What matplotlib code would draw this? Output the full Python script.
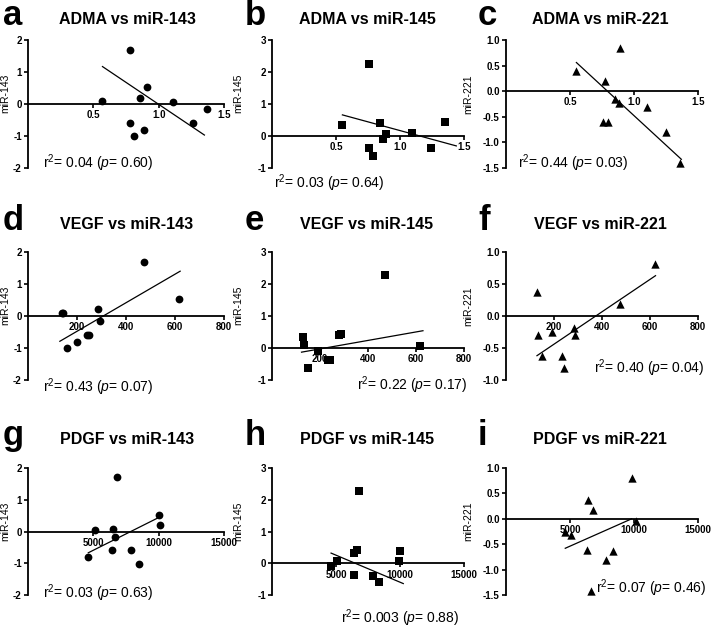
import matplotlib
matplotlib.use("Agg")
import matplotlib.pyplot as plt

plt.rcParams["font.family"] = ["Liberation Sans", "DejaVu Sans"]
plt.rcParams["mathtext.fontset"] = "custom"
plt.rcParams["mathtext.rm"] = "Liberation Sans"
plt.rcParams["mathtext.it"] = "Liberation Sans:italic"
plt.rcParams["axes.unicode_minus"] = False

# ---- data ----
# ADMA panels
a_x = [0.57, 0.78, 0.78, 0.81, 0.89, 0.86, 0.91, 1.11, 1.26, 1.37]
a_y = [0.08, 1.69, -0.60, -1.00, -0.80, 0.20, 0.52, 0.07, -0.60, -0.17]
a_fit = ([0.57, 1.35], [1.17, -0.97])

b_x = [0.55, 0.76, 0.76, 0.79, 0.84, 0.87, 0.89, 1.09, 1.24, 1.35]
b_y = [0.34, 2.24, -0.37, -0.61, 0.41, -0.08, 0.07, 0.09, -0.39, 0.43]
b_fit = ([0.55, 1.44], [0.66, -0.31])

c_x = [0.55, 0.77, 0.76, 0.80, 0.85, 0.88, 0.89, 1.10, 1.25, 1.36]
c_y = [0.39, 0.19, -0.60, -0.60, -0.15, -0.24, 0.84, -0.30, -0.80, -1.40]
c_fit = ([0.55, 1.37], [0.56, -1.33])

# VEGF panels
d_x = [139, 143, 158, 199, 240, 248, 287, 294, 475, 618]
d_y = [0.10, 0.08, -1.00, -0.80, -0.58, -0.58, 0.21, -0.15, 1.69, 0.53]
d_fit = ([130, 621], [-0.79, 1.40])

e_x = [130, 135, 149, 190, 235, 241, 280, 287, 472, 618]
e_y = [0.34, 0.09, -0.62, -0.09, -0.39, -0.39, 0.41, 0.43, 2.29, 0.06]
e_fit = ([123, 629], [-0.13, 0.54])

f_x = [129, 135, 150, 192, 232, 241, 282, 288, 473, 619]
f_y = [0.38, -0.30, -0.62, -0.25, -0.62, -0.82, -0.18, -0.30, 0.18, 0.81]
f_fit = ([129, 623], [-0.62, 0.63])

# PDGF panels
g_x = [4615, 5128, 6487, 6462, 6667, 6846, 7897, 8461, 10051, 10128]
g_y = [-0.80, 0.06, 0.09, -0.59, -0.18, 1.71, -0.59, -1.01, 0.53, 0.21]
g_fit = ([4615, 10000], [-0.67, 0.44])

h_x = [4615, 5077, 6410, 6615, 6410, 6820, 7872, 8385, 10000, 9949]
h_y = [-0.09, 0.08, 0.33, 0.43, -0.38, 2.28, -0.41, -0.59, 0.40, 0.08]
h_fit = ([4615, 10256], [0.32, -0.64])

i_x = [4630, 5100, 6410, 6780, 6360, 6620, 7800, 8325, 9870, 10130]
i_y = [-0.25, -0.32, 0.37, 0.17, -0.62, -1.42, -0.82, -0.64, 0.81, -0.05]
i_fit = ([4630, 9820], [-0.58, 0.00])

letters = ["a", "b", "c", "d", "e", "f", "g", "h", "i"]
titles = ["ADMA vs miR-143", "ADMA vs miR-145", "ADMA vs miR-221",
          "VEGF vs miR-143", "VEGF vs miR-145", "VEGF vs miR-221",
          "PDGF vs miR-143", "PDGF vs miR-145", "PDGF vs miR-221"]
stats = ["0.04", "0.60", "0.03", "0.64", "0.44", "0.03",
         "0.43", "0.07", "0.22", "0.17", "0.40", "0.04",
         "0.03", "0.63", "0.003", "0.88", "0.07", "0.46"]
mir_labels = ["miR-143", "miR-145", "miR-221"]

xs = [a_x, b_x, c_x, d_x, e_x, f_x, g_x, h_x, i_x]
ys = [a_y, b_y, c_y, d_y, e_y, f_y, g_y, h_y, i_y]
fits = [a_fit, b_fit, c_fit, d_fit, e_fit, f_fit, g_fit, h_fit, i_fit]

x_ticks = [[0.5, 1.0, 1.5], [200, 400, 600, 800], [5000, 10000, 15000]]
x_fmt = ["{:.1f}", "{:d}", "{:d}"]
y_ticks = [[-2, -1, 0, 1, 2], [-1, 0, 1, 2, 3], [-1.5, -1.0, -0.5, 0.0, 0.5, 1.0]]
y_ticks_f = [-1.0, -0.5, 0.0, 0.5, 1.0]

# ---- layout (pixels) ----
W, H = 712, 628
col_left = [28, 272, 506]
col_w = [196, 192, 192]
row_top = [40, 252, 468]
row_h = [128, 128, 127]
markers = ["o", "s", "^"]
msizes = [5.6, 5.4, 6.0]
ylab_off = [18, 29, 33]
letter_x = [3, 245, 478]
base_y = [25, 230, 445]
title_x = [127, 367, 600]
# r2 text: (x px, y px, ha)
r2_pos = [(43, 163, "left"), (274, 183, "left"), (518, 163, "left"),
          (43, 387, "left"), (467, 385, "right"), (704, 368, "right"),
          (43, 593, "left"), (459, 618, "right"), (706, 588, "right")]

fig = plt.figure(figsize=(W / 100, H / 100), dpi=100)

for k in range(9):
    r, c = divmod(k, 3)
    L, T, w, h = col_left[c], row_top[r], col_w[c], row_h[r]
    ax = fig.add_axes([L / W, 1 - (T + h) / H, w / W, h / H])

    ax.scatter(xs[k], ys[k], marker=markers[c], s=msizes[c] ** 2,
               color="black", zorder=3, clip_on=False, linewidths=0)
    fx, fy = fits[k]
    ax.plot(fx, fy, color="black", lw=0.9, clip_on=False)

    ax.set_xlim(0, x_ticks[r][-1])
    yt = y_ticks_f if (c == 2 and r == 1) else y_ticks[c]
    ax.set_ylim(yt[0], yt[-1])
    ax.set_yticks(yt)
    if c == 2:
        ax.set_yticklabels(["{:.1f}".format(v) for v in yt])
    else:
        ax.set_yticklabels([str(v) for v in yt])
    ax.set_xticks(x_ticks[r])
    ax.set_xticklabels([x_fmt[r].format(v) for v in x_ticks[r]])

    for s in ["top", "right"]:
        ax.spines[s].set_visible(False)
    ax.spines["bottom"].set_position(("data", 0))
    ax.spines["left"].set_linewidth(1.3)
    ax.spines["bottom"].set_linewidth(1.3)
    ax.tick_params(axis="both", direction="out", length=3, width=1.2,
                   labelsize=7, pad=1.5)
    for lab in ax.get_xticklabels() + ax.get_yticklabels():
        lab.set_fontweight("bold")
    ax.patch.set_alpha(0)

    ax.set_ylabel(mir_labels[c], fontsize=7.5)
    ax.yaxis.set_label_coords(-ylab_off[c] / w, 0.58)

    fig.text(letter_x[c] / W, 1 - base_y[r] / H, letters[k], fontsize=25,
             fontweight="bold", ha="left", va="baseline")
    fig.text(title_x[c] / W, 1 - (base_y[r] - 1) / H, titles[k], fontsize=11.5,
             fontweight="bold", ha="center", va="baseline")

    px, py, ha = r2_pos[k]
    txt = "r$^2$= " + stats[2 * k] + " ($p$= " + stats[2 * k + 1] + ")"
    fig.text(px / W, 1 - py / H, txt, fontsize=10, ha=ha, va="center")

fig.savefig("out.png", dpi=100)
